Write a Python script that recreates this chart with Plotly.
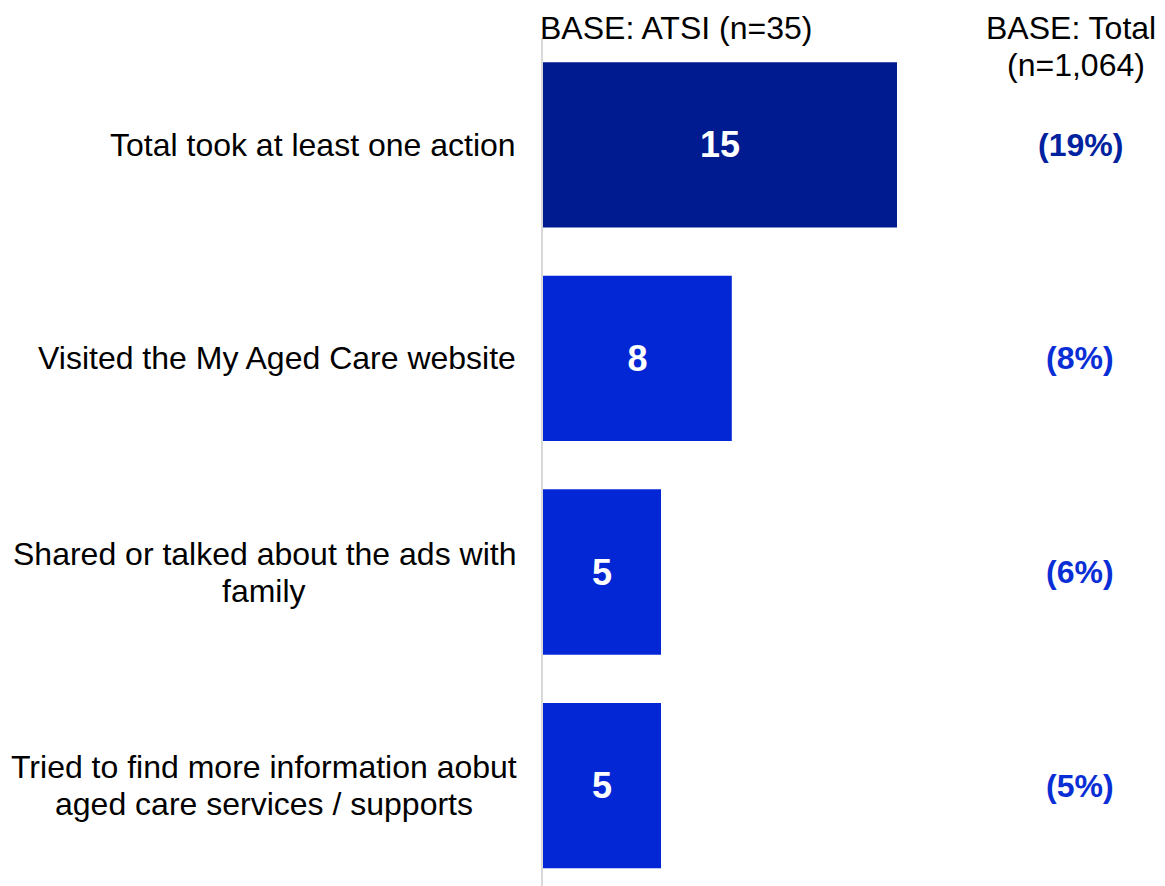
import plotly.graph_objects as go

categories = [
    "Total took at least one action",
    "Visited the My Aged Care website",
    "Shared or talked about the ads with<br>family",
    "Tried to find more information aobut<br>aged care services / supports",
]
atsi_values = [15, 8, 5, 5]
total_labels = ["(19%)", "(8%)", "(6%)", "(5%)"]
bar_colors = ["#001A8F", "#0327D4", "#0327D4", "#0327D4"]
pct_colors = ["#00229E", "#0A2ED6", "#0A2ED6", "#0A2ED6"]
header_atsi = "BASE: ATSI (n=35)"
header_total = "BASE: Total<br>(n=1,064)"

FONT = "Liberation Sans, Arial, sans-serif"
OFF = 8  # page body margin
W, H = 1165 - OFF, 886 - OFF
ML, MR, MT, MB = 543 - OFF, 0, 38 - OFF, 0
PW = W - ML - MR
PH = H - MT - MB
LINE = 37  # line spacing in px


def px_to_paper_x(px):
    return (px - 543) / PW


def multiline(text, xshifts=None, **kw):
    lines = text.split("<br>")
    n = len(lines)
    out = []
    for i, ln in enumerate(lines):
        a = dict(kw)
        a["text"] = ln
        a["yshift"] = ((n - 1) / 2 - i) * LINE
        if xshifts:
            a["xshift"] = xshifts[i]
        out.append(a)
    return out


fig = go.Figure()
fig.add_trace(go.Bar(
    y=categories,
    x=atsi_values,
    orientation="h",
    marker=dict(color=bar_colors, line=dict(width=0)),
    text=[f"<b>{v}</b>" for v in atsi_values],
    textposition="inside",
    insidetextanchor="middle",
    textfont=dict(family=FONT, size=36, color="white"),
    hoverinfo="skip",
))

annotations = []
for cat in categories:
    lab_font = dict(family=FONT, size=32, color="#000000")
    if "<br>" in cat:
        annotations += multiline(
            cat, x=px_to_paper_x(264), xref="paper", y=cat, yref="y",
            showarrow=False, xanchor="center", yanchor="middle", font=lab_font,
        )
    else:
        annotations.append(dict(
            x=px_to_paper_x(518), xref="paper", y=cat, yref="y", text=cat,
            showarrow=False, xanchor="right", yanchor="middle", font=lab_font,
        ))

for cat, lab, col in zip(categories, total_labels, pct_colors):
    annotations.append(dict(
        x=px_to_paper_x(1080), xref="paper", y=cat, yref="y",
        text=f"<b>{lab}</b>", showarrow=False, xanchor="center", yanchor="middle",
        font=dict(family=FONT, size=32, color=col),
    ))
annotations.append(dict(
    x=px_to_paper_x(676), xref="paper", y=1 + (38 - 28) / PH, yref="paper",
    text=header_atsi, showarrow=False, xanchor="center", yanchor="middle",
    font=dict(family=FONT, size=32, color="#000000"),
))
annotations += multiline(
    header_total, xshifts=[-2, 3], x=px_to_paper_x(1073), xref="paper",
    y=1 - (46.5 - 38) / PH, yref="paper",
    showarrow=False, xanchor="center", yanchor="middle",
    font=dict(family=FONT, size=32, color="#000000"),
)

fig.update_layout(
    width=W, height=H,
    margin=dict(l=ML, r=MR, t=MT, b=MB, pad=0),
    paper_bgcolor="white", plot_bgcolor="white",
    showlegend=False,
    bargap=0.226,
    annotations=annotations,
    font=dict(family=FONT),
)
fig.update_xaxes(range=[0, PW / 23.6], visible=False, showgrid=False, zeroline=False)
fig.update_yaxes(
    range=[3.47, -0.5], showticklabels=False, ticks="", showgrid=False,
    zeroline=False, showline=True, linecolor="#D9D9D9", linewidth=2,
)

fig.write_html("out.html")
